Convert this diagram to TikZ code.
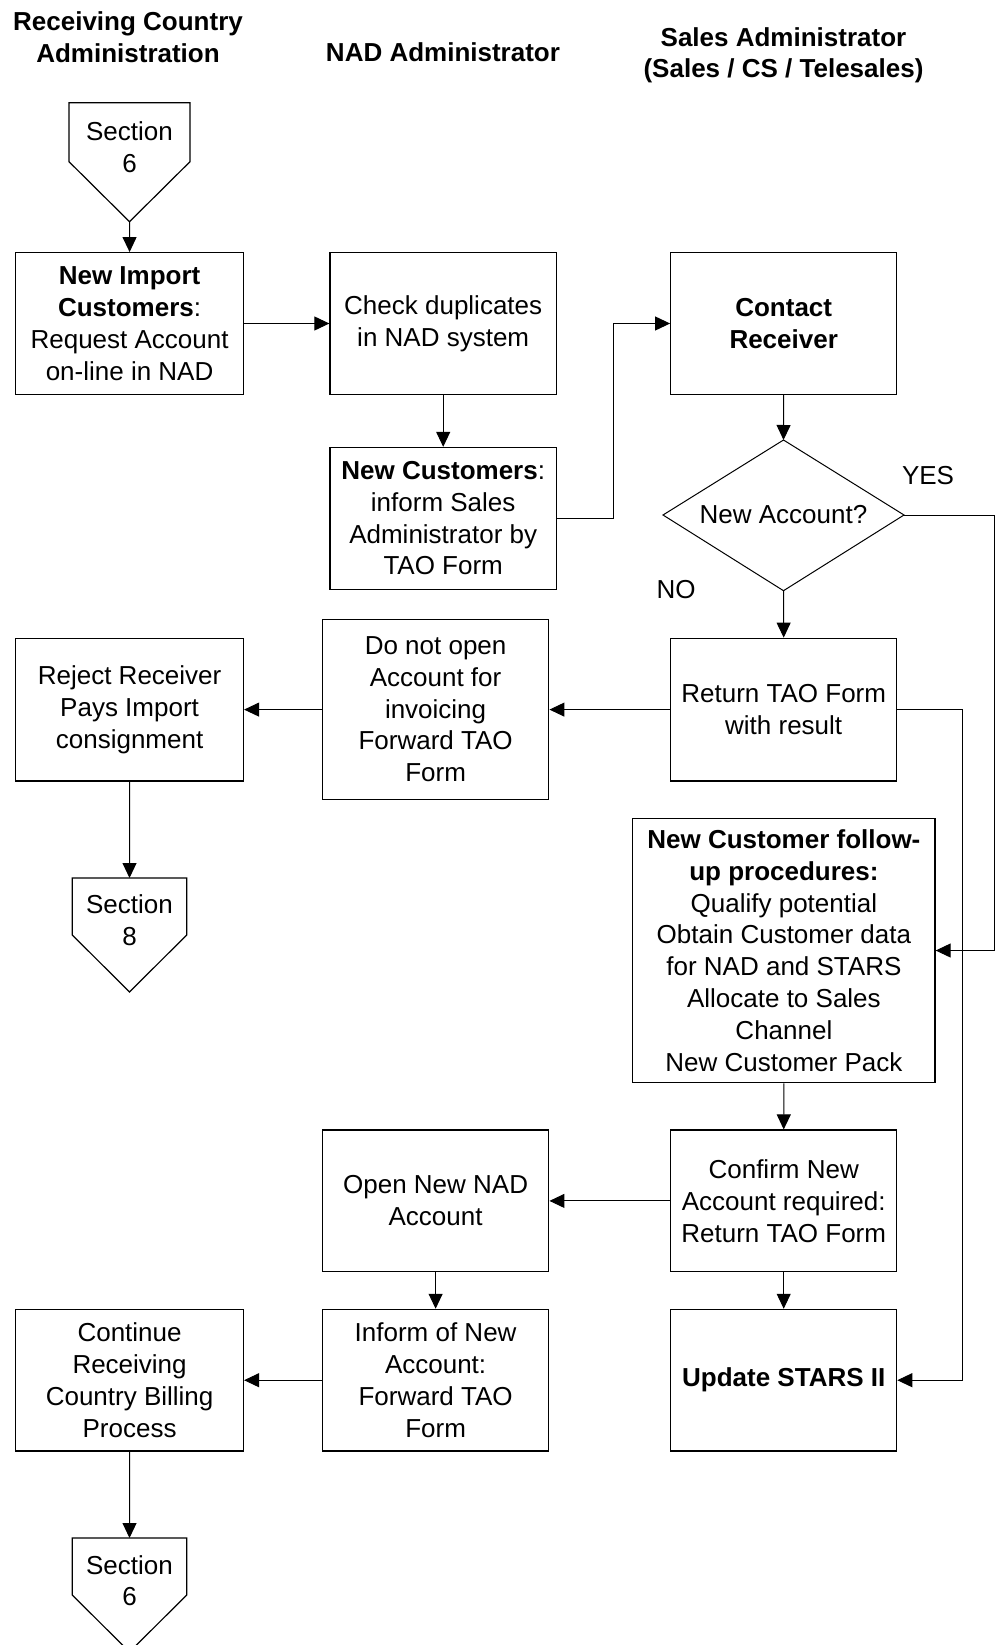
\documentclass[tikz,border=0pt]{standalone}
\usepackage{fontspec}
\setmainfont{Liberation Sans}
\usetikzlibrary{arrows.meta}
\tikzset{
  fs/.style={font={\fontsize{26}{31.8}\selectfont}},
  box/.style={draw, line width=1.2pt, align=center, inner sep=0pt, fs},
  sbox/.style={box, minimum width=226.5pt, minimum height=141.7pt},
  hdr/.style={align=center, inner sep=0pt, font={\fontsize{26}{31.5}\selectfont\bfseries}},
  lbl/.style={inner sep=0pt, fs},
  conn/.style={line width=1pt, -{Triangle[length=15pt,width=14pt]}},
  plain/.style={line width=1pt},
  pent/.style={line width=1.2pt, line join=miter}
}
\begin{document}
\begin{tikzpicture}[x=1pt,y=-1pt]
\useasboundingbox (0,0) rectangle (995,1645);

% headers
\node[hdr] (h1) at (128,37) {Receiving Country\\Administration};
\node[hdr] (h2) at (443,52.5) {NAD Administrator};
\node[hdr] (h3) at (783.5,55.5) {Sales Administrator\\(Sales / CS / Telesales)};

% Section 6 (top)
\draw[pent] (69,102.7) -- (190,102.7) -- (190,161.7) -- (129.5,221.7) -- (69,161.7) -- cycle;
\coordinate (s6atip) at (129.5,221.7);
\node[lbl, align=center] (s6a) at (129.5,147) {Section\\6};

% boxes
\node[sbox, minimum width=227.8pt] (nic) at (129.6,323.5) {\textbf{New Import}\\\textbf{Customers}:\\Request Account\\on-line in NAD};
\node[sbox] (chk) at (443.2,323.5) {Check duplicates\\in NAD system};
\node[sbox, minimum width=226pt] (cr) at (783.7,323.5) {\textbf{Contact}\\\textbf{Receiver}};
\node[sbox] (nc) at (443.2,518.3) {\textbf{New Customers}:\\inform Sales\\Administrator by\\TAO Form};

% diamond
\coordinate (diaT) at (783.5,440);
\coordinate (diaB) at (783.5,590.7);
\coordinate (diaL) at (663,515);
\coordinate (diaR) at (904,515);
\draw[line width=1pt, line join=miter] (diaT) -- (diaR) -- (diaB) -- (diaL) -- cycle;
\node[lbl] (dia) at (783.5,515) {New Account?};

\node[lbl] (yes) at (928,476) {YES};
\node[lbl] (no) at (676,590) {NO};

\node[sbox, minimum width=226pt, minimum height=142.7pt] (rtf) at (783.7,709.6) {Return TAO Form\\with result};
\node[sbox, minimum height=180pt] (dno) at (435.6,709.3) {Do not open\\Account for\\invoicing\\Forward TAO\\Form};
\node[sbox, minimum width=227.8pt, minimum height=142.7pt] (rej) at (129.6,709.6) {Reject Receiver\\Pays Import\\consignment};

% Section 8
\draw[pent] (72.3,878) -- (186.7,878) -- (186.7,935) -- (129.5,992) -- (72.3,935) -- cycle;
\coordinate (s8top) at (129.5,878);
\node[lbl, align=center] (s8) at (129.5,920.5) {Section\\8};

\node[box, minimum width=302.3pt, minimum height=264.4pt] (fup) at (783.9,950.5) {\textbf{New Customer follow-}\\\textbf{up procedures:}\\Qualify potential\\Obtain Customer data\\for NAD and STARS\\Allocate to Sales\\Channel\\New Customer Pack};

\node[sbox, minimum width=226pt] (cnf) at (783.7,1200.9) {Confirm New\\Account required:\\Return TAO Form};
\node[sbox] (onad) at (435.6,1200.9) {Open New NAD\\Account};
\node[sbox, minimum width=226pt] (upd) at (783.7,1380.2) {\textbf{Update STARS II}};
\node[sbox] (inf) at (435.6,1380.2) {Inform of New\\Account:\\Forward TAO\\Form};
\node[sbox, minimum width=227.8pt] (cont) at (129.6,1380.2) {Continue\\Receiving\\Country Billing\\Process};

% Section 6 (bottom)
\draw[pent] (72.3,1538) -- (186.7,1538) -- (186.7,1595) -- (129.5,1652) -- (72.3,1595) -- cycle;
\coordinate (s6btop) at (129.5,1538);
\node[lbl, align=center] (s6b) at (129.5,1580.7) {Section\\6};

% connectors
\draw[conn] (s6atip) -- (nic.north);
\draw[conn] (nic.east) -- (chk.west);
\draw[conn] (chk.south) -- (nc.north);
\coordinate (ncbend) at (613,518.3);
\draw[conn] (nc.east) -- (ncbend) |- (cr.west);
\draw[conn] (cr.south) -- (diaT);
\draw[conn] (diaB) -- (rtf.north);
\coordinate (yesA) at (994.5,515);
\coordinate (yesB) at (994.5,950.5);
\draw[conn] (diaR) -- (yesA) -- (yesB) -- (fup.east);
\draw[conn] (rtf.west) -- (dno.east |- rtf.west);
\draw[conn] (dno.west |- rej.east) -- (rej.east);
\draw[conn] (rej.south) -- (s8top);
\coordinate (rtfbend) at (962,709.6);
\draw[conn] (rtf.east) -- (rtfbend) |- (upd.east);
\draw[conn] (fup.south) -- (cnf.north);
\draw[conn] (cnf.west) -- (onad.east);
\draw[conn] (onad.south) -- (inf.north);
\draw[conn] (cnf.south) -- (upd.north);
\draw[conn] (inf.west) -- (cont.east);
\draw[conn] (cont.south) -- (s6btop);
\end{tikzpicture}
\end{document}
